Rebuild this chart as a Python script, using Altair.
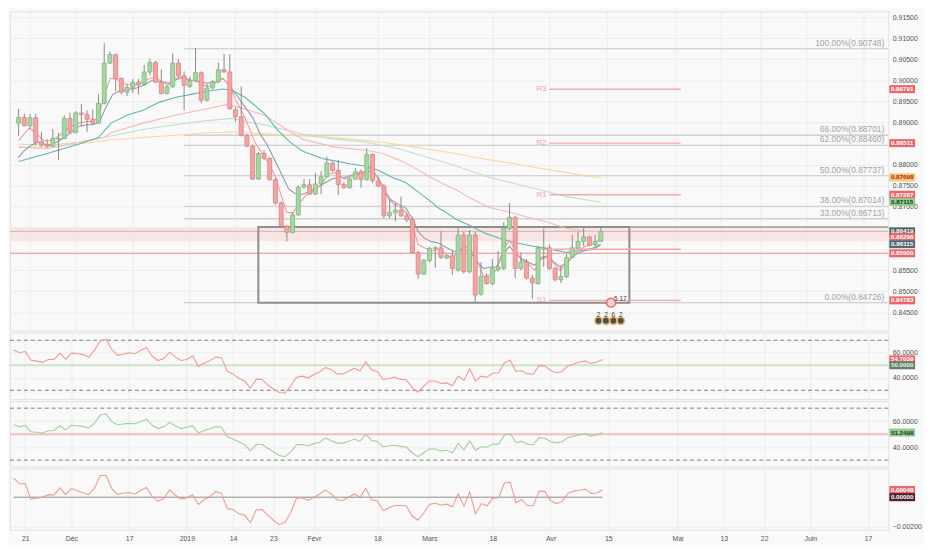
import altair as alt
import pandas as pd

# ---------------- layout constants ----------------
W = 886
H1, H2, H3, H4 = 322, 67, 66, 62
XDOM = [-2.64, 149.5]
FONT = "Liberation Sans"

# ---------------- data ----------------
bar_index = list(range(-2, 101))

opens = [0.88985,0.89121,0.88924,0.89114,0.88545,0.88485,0.88439,0.88606,0.88621,0.89098,
         0.88758,0.89227,0.89189,0.89076,0.88985,0.89455,0.90409,0.90606,0.90045,0.89720,
         0.89833,0.89955,0.89909,0.90197,0.90424,0.89955,0.89689,0.89848,0.90409,0.90106,
         0.89856,0.89985,0.90182,0.89530,0.89818,0.89970,0.90250,0.90197,0.89303,0.89136,
         0.88697,0.88439,0.87659,0.88265,0.88152,0.87644,0.87091,0.86545,0.86394,0.86811,
         0.87470,0.87523,0.87303,0.87545,0.87712,0.88038,0.87864,0.87530,0.87455,0.87659,
         0.87833,0.87644,0.88242,0.87606,0.87492,0.86788,0.86864,0.86924,0.86788,0.86697,
         0.85917,0.85409,0.85727,0.86015,0.86030,0.85788,0.85841,0.85500,0.86333,0.85462,
         0.86333,0.84932,0.85348,0.85182,0.85515,0.85538,0.86485,0.86750,0.85538,0.85689,
         0.85311,0.85182,0.85992,0.86030,0.85538,0.85273,0.85348,0.85803,0.86015,0.86182,
         0.86288,0.86106,0.86182]
highs = [0.89326,0.89212,0.89197,0.89212,0.88773,0.88606,0.88848,0.88758,0.89174,0.89227,
         0.89273,0.89439,0.89288,0.89303,0.89667,0.90879,0.90689,0.90636,0.90061,0.89909,
         0.90030,0.90030,0.90364,0.90515,0.90462,0.90258,0.89894,0.90636,0.90500,0.90212,
         0.90083,0.90765,0.90212,0.89909,0.90008,0.90424,0.90629,0.90614,0.89364,0.89856,
         0.88720,0.88470,0.88303,0.88341,0.88167,0.87697,0.87129,0.86561,0.86864,0.87508,
         0.87659,0.87659,0.87800,0.87850,0.88189,0.88076,0.88114,0.87583,0.87697,0.87924,
         0.87886,0.88394,0.88265,0.87712,0.87545,0.87167,0.87091,0.87242,0.86864,0.86750,
         0.85955,0.85765,0.86045,0.86068,0.86424,0.85864,0.85955,0.86523,0.86409,0.86447,
         0.86409,0.85689,0.85424,0.85765,0.85955,0.86636,0.87091,0.86788,0.85917,0.85765,
         0.85386,0.86068,0.86485,0.86106,0.85576,0.85614,0.85879,0.86333,0.86409,0.86500,
         0.86318,0.86333,0.86545]
lows = [0.88682,0.88909,0.88833,0.88455,0.88417,0.88394,0.88417,0.88114,0.88606,0.88742,
        0.88742,0.88909,0.88773,0.88947,0.88970,0.89424,0.90386,0.89742,0.89667,0.89629,
        0.89705,0.89667,0.89879,0.90121,0.89932,0.89667,0.89667,0.89818,0.90061,0.89288,
        0.89818,0.89955,0.89455,0.89500,0.89780,0.89932,0.90182,0.89303,0.89023,0.88667,
        0.88417,0.87644,0.87644,0.88114,0.87621,0.87053,0.86523,0.86182,0.86371,0.86788,
        0.87432,0.87280,0.87280,0.87300,0.87697,0.87833,0.87280,0.87432,0.87432,0.87644,
        0.87455,0.87621,0.87561,0.87470,0.86727,0.86727,0.86652,0.86765,0.86636,0.85894,
        0.85288,0.85379,0.85689,0.85561,0.85765,0.85758,0.85386,0.85462,0.85424,0.85424,
        0.84742,0.84894,0.85159,0.85136,0.85462,0.85500,0.86447,0.85311,0.85500,0.85273,
        0.84818,0.85159,0.85576,0.85500,0.85235,0.85197,0.85311,0.85788,0.85992,0.86068,
        0.86068,0.86068,0.86167]
closes = [0.89121,0.88924,0.89114,0.88530,0.88470,0.88439,0.88621,0.88621,0.89098,0.88758,
          0.89227,0.89189,0.89076,0.88985,0.89455,0.90409,0.90614,0.90030,0.89720,0.89833,
          0.89955,0.89894,0.90197,0.90424,0.89955,0.89689,0.89848,0.90409,0.90106,0.89879,
          0.89985,0.90182,0.89530,0.89818,0.89970,0.90250,0.90197,0.89326,0.89136,0.88697,
          0.88439,0.87659,0.88265,0.88152,0.87644,0.87091,0.86545,0.86394,0.86811,0.87470,
          0.87523,0.87303,0.87545,0.87712,0.88038,0.87864,0.87530,0.87455,0.87659,0.87833,
          0.87644,0.88242,0.87621,0.87492,0.86788,0.86864,0.86924,0.86788,0.86697,0.85917,
          0.85409,0.85727,0.86015,0.86030,0.85803,0.85841,0.85538,0.86333,0.85462,0.86333,
          0.84909,0.85348,0.85182,0.85538,0.85576,0.86500,0.86750,0.85538,0.85689,0.85311,
          0.85197,0.86030,0.86030,0.85538,0.85273,0.85348,0.85803,0.86030,0.86182,0.86288,
          0.86091,0.86182,0.86419]

# moving averages (bar position, value)
fast_x = [-2.08,-0.96,0.16,1.28,2.4,3.5,4.65,6.05,7.45,8.57,9.97,11.1,12.2,13.3,14.5,15.6,17.0,18.7,20.1,21.5,
          22.9,24.3,25.4,26.8,28.2,29.6,31.0,32.4,33.8,35.0,36.3,37.7,39.1,40.2,41.6,43.0,44.2,45.3,46.4,47.8,
          49.5,51.2,52.9,54.0,55.1,56.8,58.5,59.9,61.0,62.1,63.2,64.6,65.8,67.2,68.0,69.1,70.2,71.6,73.0,74.2,
          75.0,76.1,77.2,78.4,79.5,80.6,81.7,82.8,84.0,85.1,86.2,87.3,88.4,89.6,90.7,91.8,92.9,94.05,95.2,96.3,
          97.4,98.5,99.9]
fast_v = [0.88167,0.88341,0.88455,0.88530,0.88492,0.88470,0.88530,0.88644,0.88795,0.88909,0.88947,0.88947,0.89023,0.89364,0.89667,0.89742,0.89780,0.89818,0.89894,0.90008,
          0.89970,0.89932,0.90008,0.90061,0.90008,0.89970,0.89932,0.89955,0.90045,0.89856,0.89629,0.89364,0.89098,0.88758,0.88455,0.88076,0.87735,0.87432,0.87318,0.87300,
          0.87400,0.87530,0.87659,0.87697,0.87697,0.87773,0.87811,0.87848,0.87697,0.87394,0.87167,0.87053,0.86977,0.86674,0.86409,0.86258,0.86182,0.86144,0.86030,0.85955,
          0.85955,0.85992,0.85917,0.85689,0.85538,0.85576,0.85576,0.85841,0.86068,0.85879,0.85765,0.85689,0.85614,0.85803,0.85841,0.85689,0.85576,0.85689,0.85841,0.85917,
          0.85970,0.85992,0.86090]
quick_x = [-2.0,-0.1,1.0,2.4,3.5,4.65,6.05,7.2,8.57,9.97,11.1,12.05,13.05,14.06,15.0,16.1,17.5,18.9,20.3,22.0,
           23.1,24.3,25.4,26.5,27.9,29.0,30.1,31.3,32.4,33.8,35.0,36.0,37.2,38.3,39.4,40.5,41.6,42.8,43.9,45.0,
           46.1,47.2,48.4,49.5,51.2,52.3,53.4,55.1,56.8,58.2,59.3,60.4,61.5,62.7,63.8,65.2,66.3,67.2,68.0,69.1,
           70.2,71.4,72.5,73.9,75.0,76.1,77.2,78.4,79.5,80.6,81.7,82.8,84.0,85.1,86.2,87.3,88.4,89.6,90.7,91.8,
           92.9,94.05,95.2,96.3,97.4,98.5,99.9]
quick_v = [0.88568,0.88871,0.88758,0.88568,0.88568,0.88644,0.88795,0.88909,0.88985,0.89023,0.89023,0.89136,0.89667,0.90045,0.90045,0.89932,0.89894,0.89894,0.90008,0.90083,
           0.89970,0.89894,0.90045,0.90083,0.89985,0.90008,0.89894,0.89856,0.89932,0.90045,0.89856,0.89553,0.89250,0.88909,0.88530,0.88303,0.88076,0.87773,0.87318,0.86864,
           0.86864,0.87091,0.87280,0.87356,0.87560,0.87773,0.87811,0.87659,0.87735,0.87773,0.87924,0.87811,0.87545,0.87205,0.87053,0.86977,0.86788,0.86485,0.86106,0.86030,
           0.85955,0.85992,0.85917,0.85765,0.85955,0.86068,0.85992,0.85689,0.85348,0.85386,0.85500,0.85955,0.86220,0.85955,0.85727,0.85652,0.85500,0.85765,0.85803,0.85652,
           0.85500,0.85652,0.85841,0.85992,0.86068,0.86106,0.86250]
ma20_x = [-2,3,8.6,12,14.2,17,19.8,22.6,25.4,28.2,31,33.8,35.5,37.7,41.1,43.3,45.6,47.8,51.2,53.4,
          56.2,59.0,61.3,63.5,65.75,68.0,70.2,71.35,72.5,74.7,76.9,79.8,82.6,85.3,88.2,91.8,94.05,96.3,98.5,100]
ma20_v = [0.88076,0.88265,0.88492,0.88644,0.88985,0.89174,0.89288,0.89477,0.89591,0.89667,0.89742,0.89795,0.89758,0.89591,0.89212,0.88833,0.88530,0.88320,0.88145,0.88091,
          0.88015,0.87962,0.87848,0.87697,0.87583,0.87356,0.87129,0.86990,0.86902,0.86700,0.86568,0.86371,0.86240,0.86144,0.86068,0.85980,0.85920,0.85960,0.86020,0.86115]
ma50_x = [-2,3,8.6,13,14.2,19.8,25.4,31,34.3,36.6,41.1,45,47.8,53.4,59.0,61.8,64.6,67.4,70.2,73.0,
          74.7,77.2,80.6,84.0,87.3,90.7,94.05,97.4,100]
ma50_v = [0.88417,0.88379,0.88530,0.88644,0.88758,0.88985,0.89174,0.89326,0.89424,0.89364,0.89174,0.88833,0.88600,0.88417,0.88341,0.88265,0.88114,0.87924,0.87697,0.87508,
          0.87400,0.87205,0.86977,0.86879,0.86750,0.86636,0.86485,0.86424,0.86409]
ma100_x = [-2,3,8.6,14.2,19.8,25.4,31,35.5,37.7,42.2,47.8,53.4,59.0,64.6,67.4,70.2,73.0,77.2,80.6,84.0,
           87.3,90.7,94.05,97.4,100]
ma100_v = [0.88492,0.88455,0.88530,0.88682,0.88833,0.88947,0.89045,0.89098,0.89023,0.88909,0.88720,0.88606,0.88530,0.88379,0.88265,0.88152,0.88038,0.87848,0.87697,0.87583,
           0.87470,0.87356,0.87242,0.87167,0.87115]
ma200_x = [-2,3,8.6,14.2,19.8,25.4,31,35.5,40,45,51.2,56.2,61.8,67.4,74.7,77.2,80.6,84.0,87.3,90.7,
           94.05,97.4,100]
ma200_v = [0.88417,0.88417,0.88492,0.88591,0.88644,0.88697,0.88758,0.88773,0.88742,0.88697,0.88660,0.88606,0.88530,0.88417,0.88265,0.88189,0.88114,0.88038,0.87962,0.87886,
           0.87811,0.87735,0.87698]

# Fibonacci retracement
fib_start = 27
fib_vals = [0.90748, 0.88701, 0.88460, 0.87737, 0.87014, 0.86713, 0.84726]
fib_pcts = ["100.00%", "66.00%", "62.00%", "50.00%", "38.00%", "33.00%", "0.00%"]

# monthly pivots
piv_start, piv_end = 91, 114
piv_names = ["R3", "R2", "R1", "", "S1"]
piv_vals = [0.89791, 0.88511, 0.87287, 0.85995, 0.84783]

# rectangle / zones
box_x0, box_x1 = 40, 105
box_lo, box_hi = 0.84726, 0.86523
zone_lo, zone_hi = 0.86182, 0.86523
last_line = 0.86419
red_line = 0.85900

# event markers under the last bars
ev_top_x, ev_top_p, ev_top_t = [101.8], [0.84728], ["5 17"]
ev_row_x = [99.6, 100.9, 102.2, 103.5]
ev_row_p = [0.84300, 0.84300, 0.84300, 0.84300]
ev_row_t = ["2", "2", "6", "2"]

# price-scale tags
tag_vals = [0.89791, 0.88511, 0.87698, 0.87287, 0.87115, 0.86419, 0.86296, 0.86115, 0.85900, 0.84783]
tag_kind = ["piv", "piv", "ma200", "piv", "ma100", "close", "piv", "ma20", "piv", "piv"]

# oscillators
osc1 = [62.3,60.0,61.0,54.1,53.3,52.3,54.6,54.6,59.7,54.9,
        59.7,59.2,58.5,56.4,62.3,69.5,70.8,62.6,57.9,59.0,
        60.0,59.2,62.1,64.1,57.2,53.8,55.4,60.5,56.7,53.8,
        54.6,57.4,49.0,51.8,53.6,56.7,55.9,45.1,43.1,39.5,
        37.4,31.8,38.7,38.7,34.4,31.0,28.2,27.9,33.6,40.5,
        41.3,40.0,42.6,44.6,48.2,46.7,43.1,43.1,45.1,47.7,
        45.6,52.8,46.2,45.1,38.5,39.5,40.5,38.7,38.5,32.3,
        28.5,33.1,37.4,37.4,35.4,35.9,33.6,41.3,37.9,47.2,
        37.4,41.3,40.5,43.8,43.8,52.1,54.1,45.1,45.6,43.1,
        42.8,49.7,49.5,45.9,44.1,45.1,49.5,51.0,52.6,53.3,
        51.5,52.6,54.7039]
osc2 = [57.3,55.6,56.8,51.9,51.4,50.9,52.6,52.8,56.5,53.3,
        56.8,56.5,55.8,54.8,58.5,64.7,65.7,59.6,57.3,57.8,
        58.3,58.0,59.6,61.6,56.8,54.3,55.6,59.1,56.5,54.3,
        55.3,56.5,50.9,52.8,54.1,55.8,55.3,47.9,46.2,44.0,
        42.0,37.1,42.0,42.0,39.1,36.4,33.5,32.7,36.4,41.8,
        42.0,41.1,42.6,43.8,47.0,45.0,43.1,43.1,44.6,46.0,
        44.6,49.9,45.0,44.6,40.1,41.1,41.4,40.6,40.1,35.7,
        32.7,35.7,38.6,38.6,37.1,37.6,35.7,42.8,37.9,44.8,
        37.4,40.4,39.9,42.3,42.3,49.3,50.4,43.6,44.4,42.3,
        41.8,47.3,46.8,44.4,43.3,44.1,47.3,48.5,49.3,50.4,
        48.5,49.3,51.2498]
osc3 = [0.00129,0.00090,0.00090,-0.00015,-0.00006,0.0,0.00017,0.00015,0.00062,0.00017,
        0.00058,0.00043,0.00030,0.00017,0.00060,0.00146,0.00146,0.00058,0.00019,0.00028,
        0.00032,0.00022,0.00047,0.00065,0.00004,-0.00026,-0.00009,0.00049,0.00015,-0.00013,
        -0.00004,0.00017,-0.00049,-0.00017,0.00004,0.00037,0.00026,-0.00077,-0.00082,-0.00112,
        -0.00120,-0.00172,-0.00086,-0.00082,-0.00120,-0.00155,-0.00185,-0.00168,-0.00103,-0.00006,
        -0.00004,-0.00022,0.0,0.00022,0.00049,0.00022,-0.00017,-0.00022,0.0,0.00022,
        0.0,0.00060,-0.00017,-0.00026,-0.00092,-0.00071,-0.00056,-0.00056,-0.00058,-0.00125,
        -0.00155,-0.00108,-0.00049,-0.00039,-0.00054,-0.00047,-0.00065,0.00022,-0.00060,0.00034,
        -0.00112,-0.00043,-0.00058,-0.00006,-0.00004,0.00095,0.00101,-0.00037,-0.00017,-0.00058,
        -0.00058,0.00041,0.00039,-0.00022,-0.00043,-0.00030,0.00026,0.00041,0.00047,0.00054,
        0.00026,0.00028,0.00048]

# time axis
tick_idx = [0, 8, 18, 28, 36, 43, 50, 61, 70, 81, 91, 101, 113, 121, 128, 136, 146]
tick_lab = ["21", "Déc", "17", "2019", "14", "23", "Févr", "18", "Mars", "18", "Avr", "15", "Mai", "13", "22", "Juin", "17"]

# ---------------- frames ----------------
cand = pd.DataFrame({"i": bar_index, "o": opens, "h": highs, "l": lows, "c": closes})
cand["dir"] = ["up" if c >= o else "down" for o, c in zip(opens, closes)]

ma_frames = []
for name, xs_, vs_ in [("ma200", ma200_x, ma200_v), ("ma100", ma100_x, ma100_v), ("ma50", ma50_x, ma50_v),
                       ("ma20", ma20_x, ma20_v), ("fast", fast_x, fast_v), ("quick", quick_x, quick_v)]:
    ma_frames.append(pd.DataFrame({"i": xs_, "v": vs_, "s": name}))
ma_df = pd.concat(ma_frames, ignore_index=True)

fib_df = pd.DataFrame({"x0": [fib_start] * len(fib_vals), "v": fib_vals,
                       "t": [f"{p}({v:.5f})" for p, v in zip(fib_pcts, fib_vals)]})
piv_df = pd.DataFrame({"x0": [piv_start] * 5, "x1": [piv_end] * 5, "v": piv_vals, "n": piv_names})
box_df = pd.DataFrame({"x0": [box_x0], "x1": [box_x1], "lo": [box_lo], "hi": [box_hi]})
boxext_df = pd.DataFrame({"x0": [box_x1], "v": [box_hi]})
zone_df = pd.DataFrame({"lo": [zone_lo], "hi": [zone_hi]})
last_df = pd.DataFrame({"v": [last_line]})
red_df = pd.DataFrame({"v": [red_line]})
tag_df = pd.DataFrame({"v": tag_vals, "k": tag_kind})
osc_df = pd.DataFrame({"i": bar_index, "a": osc1, "b": osc2, "m": osc3})
ev_top_df = pd.DataFrame({"i": ev_top_x, "v": ev_top_p, "t": ev_top_t})
ev_row_df = pd.DataFrame({"i": ev_row_x, "v": ev_row_p, "t": ev_row_t})

# ---------------- scales / axes ----------------
xs = alt.Scale(domain=XDOM, nice=False, zero=False)
expr = "".join(f"datum.value == {i} ? '{l}' : " for i, l in zip(tick_idx, tick_lab)) + "''"
GRID = "#ececec"
x_grid = alt.Axis(values=tick_idx, grid=True, gridColor=GRID, labels=False, ticks=False, domain=False, title=None)
x_bottom = alt.Axis(values=tick_idx, grid=True, gridColor=GRID, labelExpr=expr, ticks=False, domain=False,
                    title=None, labelFontSize=7, labelColor="#555", labelPadding=5, labelFont=FONT)


def X(f, ax):
    return alt.X(f, type="quantitative", scale=xs, axis=ax)


def yaxis(vals, fmt):
    return alt.Axis(orient="right", values=vals, format=fmt, grid=True, gridColor=GRID, ticks=False,
                    domain=False, title=None, labelFontSize=7, labelColor="#555", labelPadding=4, labelFont=FONT)


TAG = "M-1,-0.31H1V0.31H-1Z"
KINDS = ["piv", "ma200", "ma100", "close", "ma20", "red", "rsi_mid", "green", "zero"]
tag_scale_fill = alt.Scale(domain=KINDS,
                           range=["#e8676c", "#f7c56e", "#93c98f", "#4e5c66", "#536873", "#e8676c", "#64806a", "#93c98f", "#4b2230"])
tag_scale_text = alt.Scale(domain=KINDS,
                           range=["#ffffff", "#b3261e", "#1e3d1e", "#ffffff", "#ffffff", "#ffffff", "#e8f0e8", "#1e3d1e", "#ffffff"])


def tags(df, ysc, yax, fmt):
    base = alt.Chart(df)
    box = base.mark_point(shape=TAG, size=676, filled=True, opacity=1, strokeWidth=0).encode(
        x=alt.value(W + 14), y=alt.Y("v:Q", scale=ysc, axis=yax),
        fill=alt.Fill("k:N", scale=tag_scale_fill, legend=None))
    txt = base.mark_text(fontSize=6.3, font=FONT, fontWeight="bold", align="center", baseline="middle").encode(
        x=alt.value(W + 14), y=alt.Y("v:Q", scale=ysc, axis=yax),
        text=alt.Text("v:Q", format=fmt),
        color=alt.Color("k:N", scale=tag_scale_text, legend=None))
    return [box, txt]


RES = dict(color="independent", fill="independent", stroke="independent")

# ---------------- main panel ----------------
ys1 = alt.Scale(domain=[0.84068, 0.91636], nice=False, zero=False)
main_ticks = [0.845, 0.85, 0.855, 0.87, 0.875, 0.88, 0.89, 0.895, 0.90, 0.905, 0.91, 0.915]
ya1 = yaxis(main_ticks, ".5f")


def Y1(f):
    return alt.Y(f, type="quantitative", scale=ys1, axis=ya1)


zone = alt.Chart(zone_df).mark_rect(color="#f9dede", opacity=0.75).encode(
    x=alt.value(0), x2=alt.value(W), y=Y1("lo"), y2="hi")
last_rule = alt.Chart(last_df).mark_rule(strokeWidth=1, color="#c4b9ad").encode(y=Y1("v"))
red_rule = alt.Chart(red_df).mark_rule(strokeWidth=1, color="#ee8a8a").encode(y=Y1("v"))
fib_lines = alt.Chart(fib_df).mark_rule(color="#c6c6c6", strokeWidth=1.2).encode(
    x=X("x0", x_grid), x2=alt.value(W), y=Y1("v"))
fib_text = alt.Chart(fib_df).mark_text(align="right", baseline="bottom", dy=-1, fontSize=8.5, font=FONT, color="#a2a2a2").encode(
    x=alt.value(W - 4), y=Y1("v"), text="t:N")
box = alt.Chart(box_df).mark_rect(fillOpacity=0, stroke="#8e8e8e", strokeWidth=2).encode(
    x=X("x0", x_grid), x2="x1", y=Y1("lo"), y2="hi")
box_ext = alt.Chart(boxext_df).mark_rule(color="#9a9a9a", strokeWidth=1.6).encode(
    x=X("x0", x_grid), x2=alt.value(W), y=Y1("v"))
ma_lines = alt.Chart(ma_df).mark_line(strokeWidth=1.1).encode(
    x=X("i", x_grid), y=Y1("v"), detail="s:N",
    color=alt.Color("s:N", legend=None, scale=alt.Scale(
        domain=["ma200", "ma100", "ma50", "ma20", "fast", "quick"],
        range=["#fcd79c", "#bfe0c4", "#f5b9b9", "#5db8b0", "#8f99ac", "#f29c9c"])))
wicks = alt.Chart(cand).mark_rule(color="#8a8a8a", strokeWidth=1).encode(
    x=X("i", x_grid), y=Y1("l"), y2="h")
bodies = alt.Chart(cand).mark_bar(size=4, strokeWidth=0.8).encode(
    x=X("i", x_grid), y=Y1("o"), y2="c",
    fill=alt.Fill("dir:N", legend=None, scale=alt.Scale(domain=["up", "down"], range=["#a7d5a4", "#f3a5a5"])),
    stroke=alt.Stroke("dir:N", legend=None, scale=alt.Scale(domain=["up", "down"], range=["#7db87a", "#df7f7f"])))
piv_lines = alt.Chart(piv_df).mark_rule(color="#f3a9a9", strokeWidth=1.5).encode(
    x=X("x0", x_grid), x2="x1", y=Y1("v"))
piv_text = alt.Chart(piv_df).mark_text(align="right", baseline="middle", dx=-3, fontSize=8, font=FONT, color="#f0a3a3").encode(
    x=X("x0", x_grid), y=Y1("v"), text="n:N")
ev_row = alt.Chart(ev_row_df).mark_point(filled=True, size=55, fill="#44525c", stroke="#f4b860", strokeWidth=1.6, opacity=1).encode(
    x=X("i", x_grid), y=Y1("v"))
ev_row_t = alt.Chart(ev_row_df).mark_text(fontSize=6.5, font=FONT, color="#444", dy=-6).encode(
    x=X("i", x_grid), y=Y1("v"), text="t:N")
ev_top = alt.Chart(ev_top_df).mark_point(filled=True, size=80, fill="#f6d0d0", stroke="#e8676c", strokeWidth=1.5, opacity=1).encode(
    x=X("i", x_grid), y=Y1("v"))
ev_top_t = alt.Chart(ev_top_df).mark_text(fontSize=6.5, font=FONT, color="#444", align="left", dx=3, dy=-4).encode(
    x=X("i", x_grid), y=Y1("v"), text="t:N")

main = alt.layer(zone, last_rule, red_rule, fib_lines, fib_text, box, box_ext, ma_lines, wicks, bodies,
                 piv_lines, piv_text, ev_top, ev_top_t, ev_row, ev_row_t,
                 *tags(tag_df, ys1, ya1, ".5f")).resolve_scale(**RES).properties(width=W, height=H1)


# ---------------- oscillator panels ----------------
def osc_panel(field, dom, vals, fmt, line_color, mid_color, bands, tagframe, height, xax, zero_partial=False):
    ysc = alt.Scale(domain=dom, nice=False, zero=False)
    yax = yaxis(vals, fmt)
    layers = []
    if bands:
        bdf = pd.DataFrame({"v": bands})
        layers.append(alt.Chart(bdf).mark_rule(color="#7c7c7c", strokeDash=[4, 3], strokeWidth=1).encode(
            y=alt.Y("v:Q", scale=ysc, axis=yax)))
    if zero_partial:
        zdf = pd.DataFrame({"x0": [bar_index[0]], "x1": [bar_index[-1]], "v": [0.0]})
        layers.append(alt.Chart(zdf).mark_rule(color="#8c8c8c", strokeWidth=1).encode(
            x=X("x0", xax), x2="x1", y=alt.Y("v:Q", scale=ysc, axis=yax)))
    else:
        mdf = pd.DataFrame({"v": [50.0]})
        layers.append(alt.Chart(mdf).mark_rule(color=mid_color, strokeWidth=2).encode(
            y=alt.Y("v:Q", scale=ysc, axis=yax)))
    layers.append(alt.Chart(osc_df).mark_line(color=line_color, strokeWidth=1.1).encode(
        x=X("i", xax), y=alt.Y(f"{field}:Q", scale=ysc, axis=yax)))
    layers += tags(tagframe, ysc, yax, fmt)
    return alt.layer(*layers).resolve_scale(**RES).properties(width=W, height=height)


p2 = osc_panel("a", [23.1, 76.2], [40, 60], ".4f", "#f09a92", "#cfe3c9", [70, 30],
               pd.DataFrame({"v": [osc1[-1], 50.0], "k": ["red", "rsi_mid"]}), H2, x_grid)
p3 = osc_panel("b", [25.2, 75.6], [40, 60], ".4f", "#9fd19c", "#f4bcbc", [70, 30],
               pd.DataFrame({"v": [osc2[-1]], "k": ["green"]}), H3, x_grid)
p4 = osc_panel("m", [-0.00219, 0.00194], [-0.002], ".5f", "#f09a92", None, None,
               pd.DataFrame({"v": [osc3[-1], 0.0], "k": ["red", "zero"]}), H4, x_bottom, zero_partial=True)

chart = alt.vconcat(main, p2, p3, p4, spacing=0).properties(
    padding={"left": 0, "top": 0, "right": 2, "bottom": 0},
    background="#f9f9f9",
).configure_view(stroke="#e2e2e2", fill="#f9f9f9").configure_text(font=FONT)

chart.save("out.html", embed_options={"renderer": "svg", "actions": False})
